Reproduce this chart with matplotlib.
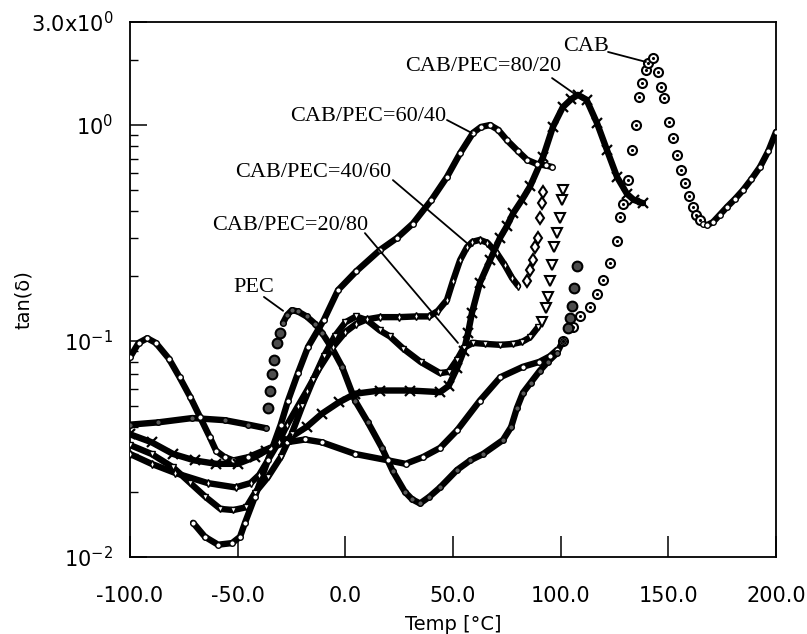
import matplotlib
matplotlib.use("Agg")
import matplotlib.pyplot as plt

# ---------------- data ----------------
# CAB
cab_T = [-100, -96, -92, -88, -82, -77, -72, -67.5, -63, -60, -56, -52, -45, -35, -27,
         -18.7, -11, 4.5, 20, 28, 36, 44, 52, 62.5, 72, 82.5, 90, 95, 98.3]
cab_tan = [0.084, 0.098, 0.103, 0.098, 0.083, 0.068, 0.055, 0.0445, 0.036, 0.031, 0.029,
           0.028, 0.029, 0.032, 0.034, 0.035, 0.034, 0.030, 0.028, 0.027, 0.029, 0.032,
           0.0387, 0.053, 0.068, 0.076, 0.080, 0.085, 0.091]
cab_sparse_T = [101, 105.7, 109, 113.6, 117, 119.7, 122.9, 126.2, 127.6, 129, 131.3, 133.1,
                135, 136.4, 137.8, 139.5, 140.6, 142.9, 145.2, 146.5, 148, 150.3, 152, 154,
                155.8, 157.7, 159.5, 161.4, 163, 164.7]
cab_sparse_tan = [0.10, 0.116, 0.13, 0.144, 0.165, 0.191, 0.23, 0.29, 0.375, 0.43, 0.556,
                  0.766, 1.0, 1.35, 1.56, 1.8, 1.94, 2.04, 1.76, 1.5, 1.33, 1.03, 0.87,
                  0.73, 0.62, 0.54, 0.47, 0.417, 0.385, 0.363]
cab_tail_T = [166, 168, 170.7, 174, 177.2, 181, 184.7, 188.5, 192.6, 196.5, 200]
cab_tail_tan = [0.350, 0.344, 0.355, 0.385, 0.417, 0.455, 0.50, 0.56, 0.64, 0.76, 0.93]

# PEC
pec_T = [-100, -87, -71, -56, -45, -37]
pec_tan = [0.041, 0.042, 0.044, 0.043, 0.041, 0.0395]
pec_rise_T = [-35.9, -35, -34.1, -33.1, -31.7, -30.3]
pec_rise_tan = [0.049, 0.059, 0.070, 0.082, 0.098, 0.109]
pec_mid_T = [-29, -27, -24.8, -22, -18, -14, -10.8, -6, -1.5, 4.5, 10.5, 17, 22, 27.7, 31,
             34.7, 39, 44, 51.9, 58, 64, 73.2, 77, 79.7, 82.5, 86, 90.4, 94, 98.3, 101]
pec_mid_tan = [0.121, 0.132, 0.139, 0.137, 0.13, 0.12, 0.109, 0.092, 0.076, 0.053, 0.042,
               0.032, 0.025, 0.020, 0.0185, 0.0177, 0.019, 0.021, 0.0253, 0.028, 0.030,
               0.0348, 0.040, 0.049, 0.0576, 0.064, 0.073, 0.080, 0.088, 0.100]
pec_high_T = [103.4, 104.3, 105.3, 106.2, 107.6]
pec_high_tan = [0.115, 0.128, 0.145, 0.176, 0.222]

# CAB/PEC = 20/80
b2080_T = [-100, -90, -80, -72, -65, -58, -52, -46, -42, -36, -30, -25, -20, -15, -10, -5,
           0, 5, 10, 16, 20.7, 27, 35, 44, 48, 51.9, 55, 59.3, 65, 72, 78, 82, 85.8, 89.5]
b2080_tan = [0.033, 0.030, 0.026, 0.022, 0.019, 0.0167, 0.0165, 0.017, 0.0198, 0.0234,
             0.029, 0.037, 0.05, 0.066, 0.085, 0.105, 0.122, 0.13, 0.125, 0.112, 0.105,
             0.092, 0.08, 0.071, 0.072, 0.082, 0.093, 0.098, 0.097, 0.096, 0.097, 0.099,
             0.104, 0.116]
b2080_sparse_T = [91.3, 93.2, 94.1, 95.0, 96.0, 96.9, 98.3, 99.7, 100.6, 101.3]
b2080_sparse_tan = [0.122, 0.142, 0.16, 0.19, 0.225, 0.272, 0.316, 0.371, 0.45, 0.50]

# CAB/PEC = 40/60
b4060_T = [-100, -90, -79, -64, -51, -44, -40, -36, -31, -27, -22, -17.8, -12, -5.7, 0, 5,
           10, 16, 25, 33, 39, 43, 47.2, 50, 53.3, 56.5, 59, 62.5, 66, 70.4, 74, 77.4, 80.2]
b4060_tan = [0.030, 0.027, 0.0245, 0.022, 0.021, 0.022, 0.024, 0.028, 0.034, 0.041, 0.05,
             0.059, 0.075, 0.094, 0.11, 0.12, 0.126, 0.129, 0.129, 0.13, 0.13, 0.138, 0.155,
             0.19, 0.237, 0.272, 0.288, 0.294, 0.285, 0.255, 0.225, 0.196, 0.18]
b4060_sparse_T = [84.4, 85.8, 87.2, 88.1, 89.5, 90.4, 91.3, 91.8]
b4060_sparse_tan = [0.19, 0.213, 0.237, 0.272, 0.30, 0.371, 0.435, 0.49]

# CAB/PEC = 60/40
b6040_T = [-70.7, -65.2, -59.1, -52.6, -48.9, -46.6, -42, -36, -30, -26.6, -22, -17.3,
           -10, -3.4, 5, 16.1, 24, 31.4, 40, 47.2, 53.3, 59.3, 63, 67.2, 71, 75.1, 80,
           84.4, 89, 93, 96]
b6040_tan = [0.0144, 0.0124, 0.0114, 0.0116, 0.0124, 0.0144, 0.019, 0.028, 0.041, 0.053,
             0.071, 0.094, 0.125, 0.172, 0.21, 0.264, 0.30, 0.35, 0.45, 0.575, 0.74, 0.92,
             0.98, 1.0, 0.95, 0.85, 0.76, 0.69, 0.66, 0.65, 0.64]

# CAB/PEC = 80/20
b8020_T = [-100, -90, -80, -70, -60, -50, -42, -37, -27, -18, -11, -3, 4.5, 16, 30, 44, 48,
           51.9, 55, 57, 58.8, 62.5, 67.2, 71.8, 75, 77.9, 82, 85.8, 91.8, 96.4, 101, 105,
           108, 112, 116.9, 121.5, 126.2, 130.8, 134, 138.2]
b8020_tan = [0.037, 0.034, 0.030, 0.028, 0.027, 0.027, 0.029, 0.031, 0.035, 0.040, 0.046,
             0.052, 0.057, 0.059, 0.059, 0.058, 0.062, 0.075, 0.09, 0.109, 0.135, 0.186,
             0.237, 0.30, 0.34, 0.39, 0.45, 0.52, 0.71, 0.98, 1.21, 1.32, 1.38, 1.31, 1.02,
             0.766, 0.574, 0.48, 0.45, 0.435]

x_ticks = [-100, -50, 0, 50, 100, 150, 200]
x_ticklabels = ["-100.0", "-50.0", "0.0", "50.0", "100.0", "150.0", "200.0"]
y_ticks = [0.01, 0.1, 1.0, 3.0]
y_ticklabels = [r"$\mathregular{10^{-2}}$", r"$\mathregular{10^{-1}}$",
                r"$\mathregular{10^{0}}$", r"$\mathregular{3.0x10^{0}}$"]

labels = ["CAB", "CAB/PEC=80/20", "CAB/PEC=60/40", "CAB/PEC=40/60", "CAB/PEC=20/80", "PEC"]
label_text_pos = [(101.1, 2.30), (27.7, 1.86), (-25.7, 1.09), (-51.2, 0.60), (-61.9, 0.344),
                  (-52.2, 0.176)]
label_line_start = [(122.0, 2.18), (96.0, 1.65), (47.2, 1.055), (22.1, 0.556), (9.1, 0.316),
                    (-37.8, 0.160)]
label_line_end = [(139.6, 1.96), (107.1, 1.38), (58.8, 0.918), (56.5, 0.284), (52.3, 0.098),
                  (-28.9, 0.138)]

# ---------------- figure ----------------
W, H = 807, 634
fig = plt.figure(figsize=(W / 100, H / 100), dpi=100)
ax = fig.add_axes([130 / W, 1 - 557 / H, (776 - 130) / W, (557 - 22) / H])
ax.set_yscale("log")
ax.set_xlim(-100, 200)
ax.set_ylim(0.01, 3.0)

LW = 4.6


def dense(T, v, marker, ms=4.0, mfc="white"):
    ax.plot(T, v, "-", color="black", lw=LW, solid_capstyle="round",
            solid_joinstyle="round", zorder=2)
    ax.plot(T, v, ls="none", marker=marker, ms=ms, mfc=mfc, mec="black", mew=1.0,
            zorder=3)


def sparse(T, v, marker, ms=6.5, mfc="white"):
    ax.plot(T, v, ls="none", marker=marker, ms=ms, mfc=mfc, mec="black", mew=1.5,
            zorder=3)


# CAB
dense(cab_T, cab_tan, "o")
sparse(cab_sparse_T, cab_sparse_tan, "o")
ax.plot(cab_sparse_T, cab_sparse_tan, ls="none", marker=".", ms=2.5, color="black", zorder=4)
dense(cab_tail_T, cab_tail_tan, "o")
# PEC
dense(pec_T, pec_tan, "o", mfc="0.35")
sparse(pec_rise_T, pec_rise_tan, "o", ms=7, mfc="0.3")
dense(pec_mid_T, pec_mid_tan, "o", mfc="0.35")
sparse(pec_high_T, pec_high_tan, "o", ms=7, mfc="0.3")
# 20/80
dense(b2080_T, b2080_tan, "v")
sparse(b2080_sparse_T, b2080_sparse_tan, "v", ms=7)
# 40/60
dense(b4060_T, b4060_tan, "d")
sparse(b4060_sparse_T, b4060_sparse_tan, "d", ms=6.5)
# 60/40
dense(b6040_T, b6040_tan, "o")
# 80/20
ax.plot(b8020_T, b8020_tan, "-", color="black", lw=LW, solid_capstyle="round", zorder=2)
ax.plot(b8020_T, b8020_tan, ls="none", marker="x", ms=6.5, mec="black", mew=1.6, zorder=3)

# annotations
for lab, tp, ls, le in zip(labels, label_text_pos, label_line_start, label_line_end):
    ax.text(tp[0], tp[1], lab, ha="left", va="center", fontsize=16,
            family="Liberation Serif", color="black", zorder=5)
    ax.annotate("", xy=le, xytext=ls,
                arrowprops=dict(arrowstyle="-", lw=1.3, color="black",
                                shrinkA=0, shrinkB=0), zorder=5)

# axes styling
for s in ax.spines.values():
    s.set_linewidth(1.3)
ax.set_xticks(x_ticks)
ax.set_xticklabels(x_ticklabels)
ax.set_yticks(y_ticks)
ax.set_yticklabels(y_ticklabels)
ax.yaxis.set_minor_locator(matplotlib.ticker.LogLocator(base=10, subs=range(2, 10)))
ax.yaxis.set_minor_formatter(matplotlib.ticker.NullFormatter())
ax.tick_params(axis="x", which="major", direction="in", length=15, width=1.1, pad=21,
               labelsize=15, top=False)
ax.tick_params(axis="y", which="major", direction="in", length=12, width=1.1, pad=12,
               labelsize=15, right=False)
ax.tick_params(axis="y", which="minor", direction="in", length=6, width=1.0, right=False)
ax.tick_params(axis="x", which="minor", bottom=False, top=False)
for t in ax.get_yticklabels():
    t.set_family("DejaVu Sans")

fig.text(23 / W, 1 - 300 / H, "tan(δ)", rotation=90, ha="center", va="center", fontsize=14)
fig.text(453 / W, 1 - 624 / H, "Temp [°C]", ha="center", va="center", fontsize=14)

fig.savefig("out.png", dpi=100)
